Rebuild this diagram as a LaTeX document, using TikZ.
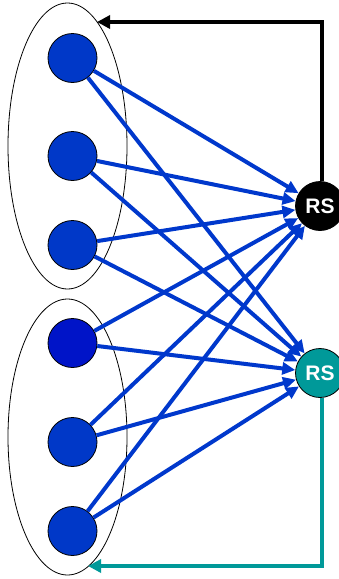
\documentclass[tikz,border=0pt]{standalone}
\usepackage{fontspec}
\setmainfont{Liberation Sans}
\usetikzlibrary{arrows.meta}
\definecolor{nblue}{RGB}{0,56,200}
\definecolor{dblue}{RGB}{0,20,200}
\definecolor{ablue}{RGB}{0,56,204}
\definecolor{rteal}{RGB}{0,153,153}
\begin{document}
\begin{tikzpicture}[x=1pt,y=-1pt,
  dot/.style={circle,draw=black,line width=0.8pt,fill=nblue,minimum size=49pt,inner sep=0pt},
  rsnode/.style={circle,draw=black,line width=0.8pt,minimum size=49pt,inner sep=0pt,text=white,font=\bfseries\fontsize{21}{21}\selectfont},
  link/.style={draw=ablue,line width=4pt,-{Triangle[length=13pt,width=12pt]}},
  back/.style={line width=4pt,-{Triangle[length=13pt,width=13pt]}}]
\useasboundingbox (0,0) rectangle (338,579);
\draw[line width=0.8pt] (67.5,146) ellipse [x radius=59.5, y radius=143];
\draw[line width=0.8pt] (67.5,437) ellipse [x radius=59.5, y radius=138];
\node[dot] (t1) at (72.5,58) {};
\node[dot] (t2) at (72.5,156) {};
\node[dot] (t3) at (72.5,245) {};
\node[dot,fill=dblue] (b1) at (72.5,343) {};
\node[dot] (b2) at (72.5,442) {};
\node[dot] (b3) at (72.5,531) {};
\node[rsnode,fill=black] (rs1) at (320,206) {RS};
\node[rsnode,fill=rteal] (rs2) at (320,373) {RS};
\coordinate (a1) at (97,22);
\coordinate (a2) at (88,566);
\foreach \s in {t1,t2,t3,b1,b2,b3}{
  \draw[link] (\s) -- (rs1);
  \draw[link] (\s) -- (rs2);
}
\draw[back,draw=black] ([xshift=2pt]rs1.north) |- (a1);
\draw[back,draw=rteal] ([xshift=2pt]rs2.south) |- (a2);
\end{tikzpicture}
\end{document}
